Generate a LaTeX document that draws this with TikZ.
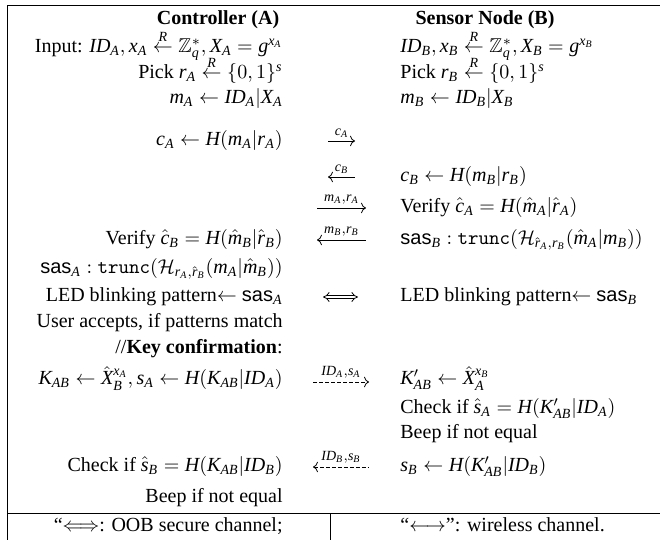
\documentclass[tikz,border=0pt]{standalone}
\usepackage{amssymb}
\usepackage{fontspec}
\setmainfont{Liberation Serif}
\setsansfont{Liberation Sans}
\DeclareSymbolFont{tletters}{TU}{\rmdefault}{m}{it}
\newcommand\mkml[1]{\DeclareMathSymbol{#1}{\mathalpha}{tletters}{`#1}}
\mkml a\mkml b\mkml c\mkml d\mkml e\mkml f\mkml g\mkml h\mkml i\mkml j\mkml k\mkml l\mkml m
\mkml n\mkml o\mkml p\mkml q\mkml r\mkml s\mkml t\mkml u\mkml v\mkml w\mkml x\mkml y\mkml z
\mkml A\mkml B\mkml C\mkml D\mkml E\mkml F\mkml G\mkml H\mkml I\mkml J\mkml K\mkml L\mkml M
\mkml N\mkml O\mkml P\mkml Q\mkml R\mkml S\mkml T\mkml U\mkml V\mkml W\mkml X\mkml Y\mkml Z
\usetikzlibrary{arrows.meta}
\tikzset{
  lt/.style={anchor=mid east, inner sep=0pt},
  rt/.style={anchor=mid west, inner sep=0pt},
  hd/.style={anchor=mid, inner sep=0pt, font=\fontsize{10}{12}\selectfont\bfseries},
  msgr/.style={line width=0.4pt, -{Computer Modern Rightarrow}},
  msgl/.style={line width=0.4pt, {Computer Modern Rightarrow}-},
  dmsgr/.style={msgr, dash pattern=on 2pt off 1pt},
  dmsgl/.style={msgl, dash pattern=on 2pt off 1pt},
  oob/.style={double, double distance=1.3pt, line width=0.4pt, {Implies}-{Implies}},
  lbl/.style={anchor=south, inner sep=0pt, yshift=1.5pt},
  rule/.style={line width=0.45pt}
}
\begin{document}
\begin{tikzpicture}[x=0.5pt, y=-0.5pt, font=\fontsize{10}{12}\selectfont]
\useasboundingbox (0,0) rectangle (660,540);
% frame
\draw[rule] (7,540) -- (7,5) -- (660,5);
\draw[rule] (7,513) -- (660,513);
\draw[rule] (330,513) -- (330,540);
% headers
\node[hd] (hA) at (218,20) {Controller (A)};
\node[hd] (hB) at (485,20) {Sensor Node (B)};
% left column
\node[lt] (l1) at (283,48) {Input: $ID_A, x_A \stackrel{R}{\leftarrow} \mathbb{Z}_q^*, X_A = g^{x_A}$};
\node[lt] (l2) at (283,74) {Pick $r_A \stackrel{R}{\leftarrow} \{0,1\}^s$};
\node[lt] (l3) at (283,99) {$m_A \leftarrow ID_A|X_A$};
\node[lt] (l4) at (283,141) {$c_A \leftarrow H(m_A|r_A)$};
\node[lt] (l7) at (283,240) {Verify $\hat{c}_B = H(\hat{m}_B|\hat{r}_B)$};
\node[lt] (l8) at (283,269) {$\textsf{sas}_A : \texttt{trunc}(\mathcal{H}_{r_A,\hat{r}_B}(m_A|\hat{m}_B))$};
\node[lt] (l9) at (283,297) {LED blinking pattern$\leftarrow$ $\textsf{sas}_A$};
\node[lt] (l10) at (283,323) {User accepts, if patterns match};
\node[lt] (l11) at (283,349) {//\textbf{Key confirmation}:};
\node[lt] (l12) at (283,380) {$K_{AB} \leftarrow \hat{X}_B^{x_A}, s_A \leftarrow H(K_{AB}|ID_A)$};
\node[lt] (l15) at (283,467) {Check if $\hat{s}_B = H(K_{AB}|ID_B)$};
\node[lt] (l16) at (283,498) {Beep if not equal};
% right column
\node[rt] (r1) at (400,48) {$ID_B, x_B \stackrel{R}{\leftarrow} \mathbb{Z}_q^*, X_B = g^{x_B}$};
\node[rt] (r2) at (400,74) {Pick $r_B \stackrel{R}{\leftarrow} \{0,1\}^s$};
\node[rt] (r3) at (400,99) {$m_B \leftarrow ID_B|X_B$};
\node[rt] (r5) at (400,177) {$c_B \leftarrow H(m_B|r_B)$};
\node[rt] (r6) at (400,208) {Verify $\hat{c}_A = H(\hat{m}_A|\hat{r}_A)$};
\node[rt] (r7) at (400,240) {$\textsf{sas}_B : \texttt{trunc}(\mathcal{H}_{\hat{r}_A,r_B}(\hat{m}_A|m_B))$};
\node[rt] (r9) at (400,297) {LED blinking pattern$\leftarrow$ $\textsf{sas}_B$};
\node[rt] (r12) at (400,380) {$K'_{AB} \leftarrow \hat{X}_A^{x_B}$};
\node[rt] (r13) at (400,409) {Check if $\hat{s}_A = H(K'_{AB}|ID_A)$};
\node[rt] (r14) at (400,434) {Beep if not equal};
\node[rt] (r15) at (400,467) {$s_B \leftarrow H(K'_{AB}|ID_B)$};
% footer
\node[lt] (fA) at (283,527) {``$\Longleftrightarrow$: OOB secure channel;};
\node[rt] (fB) at (400,527) {``$\longleftrightarrow$'': wireless channel.};
% message arrows
\coordinate (a1s) at (328,141); \coordinate (a1e) at (355,141);
\coordinate (a2s) at (328,177); \coordinate (a2e) at (355,177);
\coordinate (a3s) at (317,208); \coordinate (a3e) at (366,208);
\coordinate (a4s) at (317,240); \coordinate (a4e) at (366,240);
\coordinate (a5s) at (323,297); \coordinate (a5e) at (358,297);
\coordinate (a6s) at (313,382); \coordinate (a6e) at (369,382);
\coordinate (a7s) at (313,467); \coordinate (a7e) at (369,467);
\draw[msgr] (a1s) -- node[lbl] (t1) {$\scriptstyle c_A$} (a1e);
\draw[msgl] (a2s) -- node[lbl] (t2) {$\scriptstyle c_B$} (a2e);
\draw[msgr] (a3s) -- node[lbl] (t3) {$\scriptstyle m_A,r_A$} (a3e);
\draw[msgl] (a4s) -- node[lbl] (t4) {$\scriptstyle m_B,r_B$} (a4e);
\draw[oob] (a5s) -- (a5e);
\draw[dmsgr] (a6s) -- node[lbl] (t6) {$\scriptstyle ID_A,s_A$} (a6e);
\draw[dmsgl] (a7s) -- node[lbl] (t7) {$\scriptstyle ID_B,s_B$} (a7e);
\end{tikzpicture}
\end{document}
